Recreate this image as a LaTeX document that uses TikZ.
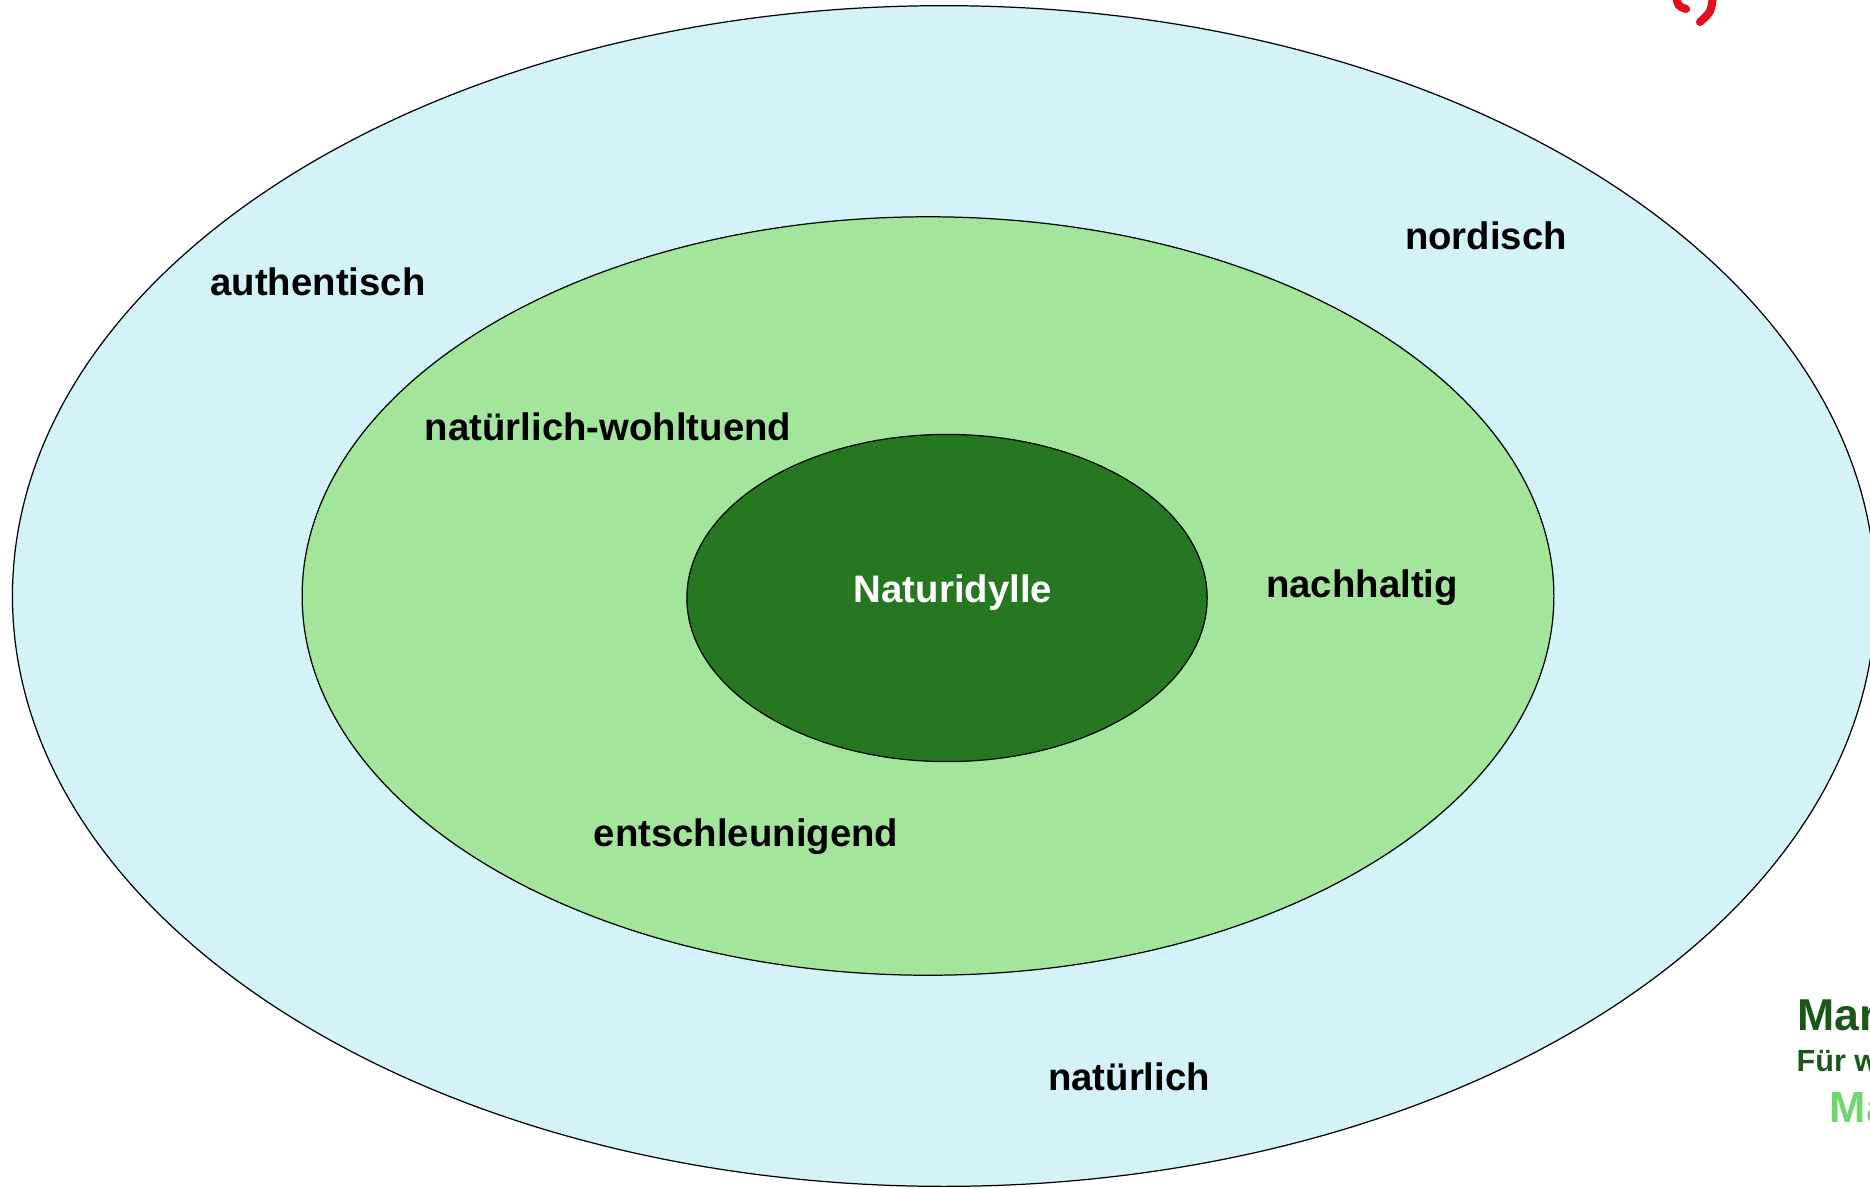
\documentclass[tikz,border=0pt]{standalone}
\usepackage{fontspec}
\setmainfont{Liberation Sans}
\usepackage{tikz}
\usetikzlibrary{shapes.geometric,positioning}
\usepackage{xcolor}
\definecolor{outercolor}{RGB}{211, 243, 248}
\definecolor{middlecolor}{RGB}{163, 229, 155}
\definecolor{innercolor}{RGB}{38, 120, 32}
\definecolor{darkgreen}{RGB}{27, 87, 24}
\definecolor{lightgreen}{RGB}{112, 214, 112}
\definecolor{markred}{RGB}{226, 16, 26}

\begin{document}
\begin{tikzpicture}[
    x=0.01cm, y=-0.01cm,
    ring/.style={ellipse, draw, line width=0.35pt, inner sep=0pt},
    word/.style={font=\fontsize{10.9}{12}\selectfont\bfseries, text=black},
    corner/.style={anchor=west, font=\bfseries, inner sep=0pt}
]
    \useasboundingbox (0, 0) rectangle (1870, 1187);
    \clip (0, 0) rectangle (1870, 1187);

    % Rings
    \node[ring, fill=outercolor, minimum width=18.62cm, minimum height=11.8cm] (outer) at (944, 596) {};
    \node[ring, fill=middlecolor, minimum width=12.51cm, minimum height=7.58cm] (middle) at (928, 596) {};
    \node[ring, fill=innercolor, minimum width=5.2cm, minimum height=3.27cm] (inner) at (947, 598) {};

    % Core
    \node[word, text=white] (core) at (953, 593) {Naturidylle};

    % Middle ring words
    \node[word] (wohl) at (608, 427) {natürlich-wohltuend};
    \node[word] (nach) at (1362, 588) {nachhaltig};
    \node[word] (ent) at (746, 837) {entschleunigend};

    % Outer ring words
    \node[word] (auth) at (318, 282) {authentisch};
    \node[word] (nord) at (1486, 236) {nordisch};
    \node[word] (nat) at (1129, 1077) {natürlich};

    % Cut-off text at the right edge
    \node[corner, text=darkgreen, font=\fontsize{12.7}{14}\selectfont\bfseries] (mar) at (1797, 1015) {Mar};
    \node[corner, text=darkgreen, font=\fontsize{8.7}{10}\selectfont\bfseries] (fuer) at (1796, 1061) {Für w};
    \node[corner, text=lightgreen, font=\fontsize{12.4}{14}\selectfont\bfseries] (ma) at (1829, 1108) {Ma};

    % Red marks at the top
    \draw[markred, line width=2.3pt, line cap=round] (1676, -4) .. controls (1678, 6) .. (1686, 9);
    \draw[markred, line width=2.3pt, line cap=round] (1713, -4) .. controls (1711, 12) .. (1700, 22);
\end{tikzpicture}
\end{document}
